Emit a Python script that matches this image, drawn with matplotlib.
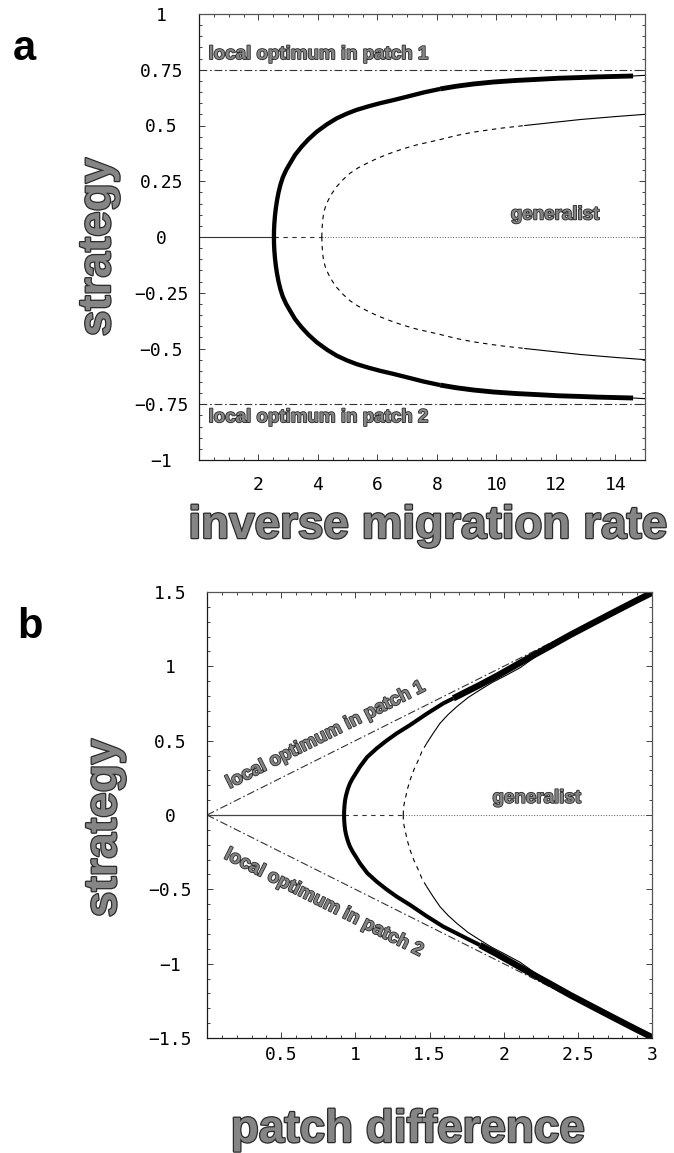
import numpy as np
import matplotlib
matplotlib.use("Agg")
import matplotlib.pyplot as plt
import matplotlib.patheffects as pe
from matplotlib.ticker import MultipleLocator

plt.rcParams['font.family'] = ['DejaVu Sans Mono']

# ---------------- Panel a data ----------------
a_xticks = [2, 4, 6, 8, 10, 12, 14]
a_xticklabels = ['2', '4', '6', '8', '10', '12', '14']
a_yticks = [-1, -0.75, -0.5, -0.25, 0, 0.25, 0.5, 0.75, 1]
a_yticklabels = ['\u22121', '\u22120.75', '\u22120.5', '\u22120.25', '0', '0.25', '0.5', '0.75', '1']
a_opt_level = 0.75

a_zero_solid_x = [0.0, 2.52]
a_zero_dash_x = [2.52, 4.13]
a_zero_dot_x = [4.13, 15.0]

# stable (thick) branch, upper half; lower half is its mirror image
a_stable_x = [2.52, 2.523, 2.534, 2.555, 2.585, 2.625, 2.675, 2.74, 2.82, 2.93, 3.06,
              3.23, 3.45, 3.68, 3.96, 4.30, 4.63, 4.97, 5.30, 5.70, 6.09, 6.54, 6.99,
              7.55, 8.11, 8.65, 9.22, 9.9, 10.67, 11.4, 12.1, 12.8, 13.4, 14.0, 14.6]
a_stable_y = [0.0, 0.03, 0.06, 0.095, 0.13, 0.165, 0.200, 0.235, 0.268, 0.300, 0.330,
              0.368, 0.405, 0.438, 0.472, 0.505, 0.532, 0.553, 0.570, 0.586, 0.600,
              0.614, 0.629, 0.648, 0.664, 0.676, 0.686, 0.695, 0.702, 0.707, 0.712,
              0.715, 0.718, 0.720, 0.722]
a_stable_tail_x = [14.6, 15.0]
a_stable_tail_y = [0.722, 0.725]

# unstable branch (dashed then thin solid)
a_unst_dash_x = [4.13, 4.14, 4.16, 4.19, 4.25, 4.35, 4.48, 4.63, 4.85, 5.08, 5.35,
                 5.64, 6.0, 6.42, 6.85, 7.32, 8.11, 8.65, 9.22, 10.1, 10.96]
a_unst_dash_y = [0.0, 0.04, 0.075, 0.105, 0.135, 0.166, 0.197, 0.226, 0.258, 0.286,
                 0.310, 0.330, 0.353, 0.375, 0.395, 0.413, 0.437, 0.455, 0.470,
                 0.487, 0.500]
a_unst_solid_x = [10.96, 12.0, 12.84, 14.0, 15.0]
a_unst_solid_y = [0.500, 0.515, 0.527, 0.540, 0.550]

# ---------------- Panel b data ----------------
b_xticks = [0.5, 1, 1.5, 2, 2.5, 3]
b_xticklabels = ['0.5', '1', '1.5', '2', '2.5', '3']
b_yticks = [-1.5, -1, -0.5, 0, 0.5, 1, 1.5]
b_yticklabels = ['\u22121.5', '\u22121', '\u22120.5', '0', '0.5', '1', '1.5']

b_opt_x = [0.0, 3.0]
b_opt_y = [0.0, 1.5]

b_zero_solid_x = [0.0, 0.924]
b_zero_dash_x = [0.924, 1.323]
b_zero_dot_x = [1.323, 3.0]

b_stable_x = [0.924, 0.9245, 0.926, 0.928, 0.931, 0.937, 0.945, 0.953, 0.964, 0.981,
              1.000, 1.031, 1.08, 1.144, 1.21, 1.279, 1.369, 1.48, 1.593, 1.661,
              1.75, 1.84, 1.953, 2.06, 2.178, 2.30, 2.447, 2.60, 2.75, 2.90, 3.0]
b_stable_y = [0.0, 0.025, 0.05, 0.075, 0.10, 0.13, 0.16, 0.185, 0.213, 0.245,
              0.275, 0.325, 0.39, 0.448, 0.50, 0.549, 0.605, 0.68, 0.751, 0.785,
              0.83, 0.875, 0.935, 0.995, 1.062, 1.128, 1.210, 1.29, 1.368, 1.445, 1.495]
b_thick_from_upper = 1.661
b_thick_from_lower = 1.84

b_unst_dash_x = [1.323, 1.3235, 1.325, 1.329, 1.335, 1.35, 1.369, 1.395, 1.425, 1.45, 1.481]
b_unst_dash_y = [0.0, 0.025, 0.05, 0.075, 0.10, 0.17, 0.235, 0.305, 0.37, 0.43, 0.482]
b_unst_solid_x = [1.481, 1.525, 1.571, 1.625, 1.683, 1.76, 1.84, 1.92, 1.998, 2.11, 2.18, 2.30]
b_unst_solid_y = [0.482, 0.55, 0.617, 0.675, 0.728, 0.79, 0.841, 0.89, 0.930, 0.99, 1.04, 1.12]

# ---------------- Figure ----------------
W, H = 674, 1153
fig = plt.figure(figsize=(W / 100, H / 100), dpi=100)


def fx(px):
    return px / W


def fy(py):
    return 1 - py / H


LABEL_FONT = 'Liberation Sans'
GREY = '#858585'
EDGE = '#2b2b2b'
big_fx = [pe.withStroke(linewidth=1.8, foreground=EDGE)]
small_fx = [pe.withStroke(linewidth=1.2, foreground=EDGE)]

DASH = (0, (4, 4))
DOT = (0, (0.8, 1.6))
DASHDOT = (0, (7, 2.5, 1.5, 2.5))


def style_axes(ax, xlim, ylim, xticks, xtl, yticks, ytl, xminor, yminor, ypad, xpad):
    ax.set_xlim(*xlim)
    ax.set_ylim(*ylim)
    ax.set_xticks(xticks)
    ax.set_xticklabels(xtl)
    ax.set_yticks(yticks)
    ax.set_yticklabels(ytl)
    ax.xaxis.set_minor_locator(MultipleLocator(xminor))
    ax.yaxis.set_minor_locator(MultipleLocator(yminor))
    ax.tick_params(which='both', direction='in', top=True, right=True,
                   width=0.6, color='#222222')
    ax.tick_params(which='major', length=4.5)
    ax.tick_params(which='minor', length=2.2)
    ax.tick_params(axis='y', pad=ypad, labelsize=13)
    ax.tick_params(axis='x', pad=xpad, labelsize=13)
    for t in ax.yaxis.get_major_ticks():
        t.label1.set_horizontalalignment('center')
    for t in ax.xaxis.get_major_ticks():
        t.label1.set_verticalalignment('center')
    for side in ['left', 'bottom']:
        ax.spines[side].set_color('#1a1a1a')
        ax.spines[side].set_linewidth(0.9)
    for side in ['top', 'right']:
        ax.spines[side].set_color('#555555')
        ax.spines[side].set_linewidth(0.9)


# ---------------- Panel a ----------------
axa = fig.add_axes([fx(199), fy(460), 446 / W, 446 / H])
style_axes(axa, (0, 15), (-1, 1), a_xticks, a_xticklabels, a_yticks, a_yticklabels,
           0.5, 0.05, 27, 18)

axa.axhline(a_opt_level, color='#333333', lw=0.8, ls=DASHDOT)
axa.axhline(-a_opt_level, color='#333333', lw=0.8, ls=DASHDOT)
axa.plot(a_zero_solid_x, [0, 0], color='#333333', lw=0.8)
axa.plot(a_zero_dash_x, [0, 0], color='#333333', lw=0.8, ls=DASH)
axa.plot(a_zero_dot_x, [0, 0], color='#555555', lw=0.8, ls=DOT)

ax_s = np.array(a_stable_x)
ay_s = np.array(a_stable_y)
m1 = ax_s <= 8.11
m2 = ax_s >= 8.11
for sgn in (1, -1):
    axa.plot(ax_s[m1], sgn * ay_s[m1], color='black', lw=3.1, solid_capstyle='butt',
             solid_joinstyle='round')
    axa.plot(ax_s[m2], sgn * ay_s[m2], color='black', lw=3.5, solid_capstyle='butt',
             solid_joinstyle='round')
    axa.plot(a_stable_tail_x, sgn * np.array(a_stable_tail_y), color='black', lw=0.8)
    axa.plot(a_unst_dash_x, sgn * np.array(a_unst_dash_y), color='black', lw=0.8, ls=DASH)
    axa.plot(a_unst_solid_x, sgn * np.array(a_unst_solid_y), color='black', lw=0.8)

axa.text(0.32, 0.818, 'local optimum in patch 1', fontfamily=LABEL_FONT,
         fontweight='bold', fontsize=13.5, color=GREY, ha='left', va='center',
         path_effects=small_fx)
axa.text(0.32, -0.81, 'local optimum in patch 2', fontfamily=LABEL_FONT,
         fontweight='bold', fontsize=13.5, color=GREY, ha='left', va='center',
         path_effects=small_fx)
axa.text(11.97, 0.099, 'generalist', fontfamily=LABEL_FONT, fontweight='bold',
         fontsize=13.5, color=GREY, ha='center', va='center', path_effects=small_fx)

# ---------------- Panel b ----------------
axb = fig.add_axes([fx(207), fy(1038), 445 / W, 446 / H])
style_axes(axb, (0, 3), (-1.5, 1.5), b_xticks, b_xticklabels, b_yticks, b_yticklabels,
           0.1, 0.1, 26.5, 12)

for sgn in (1, -1):
    axb.plot(b_opt_x, sgn * np.array(b_opt_y), color='#333333', lw=0.8, ls=DASHDOT)
axb.plot(b_zero_solid_x, [0, 0], color='#444444', lw=0.9)
axb.plot(b_zero_dash_x, [0, 0], color='#333333', lw=0.8, ls=DASH)
axb.plot(b_zero_dot_x, [0, 0], color='#555555', lw=0.8, ls=DOT)

bx_s = np.array(b_stable_x)
by_s = np.array(b_stable_y)
for sgn, cut in ((1, b_thick_from_upper), (-1, b_thick_from_lower)):
    mthin = bx_s <= cut
    mthick = bx_s >= cut
    axb.plot(bx_s[mthin], sgn * by_s[mthin], color='black', lw=2.9, solid_capstyle='butt',
             solid_joinstyle='round')
    axb.plot(bx_s[mthick], sgn * by_s[mthick], color='black', lw=4.6, solid_capstyle='butt',
             solid_joinstyle='round')
    axb.plot(b_unst_dash_x, sgn * np.array(b_unst_dash_y), color='black', lw=0.8, ls=DASH)
    axb.plot(b_unst_solid_x, sgn * np.array(b_unst_solid_y), color='black', lw=0.8)

axb.text(0.80, 0.535, 'local optimum in patch 1', fontfamily=LABEL_FONT,
         fontweight='bold', fontsize=13.5, color=GREY, ha='center', va='center',
         rotation=26.6, rotation_mode='anchor', path_effects=small_fx)
axb.text(0.785, -0.592, 'local optimum in patch 2', fontfamily=LABEL_FONT,
         fontweight='bold', fontsize=13.5, color=GREY, ha='center', va='center',
         rotation=-26.6, rotation_mode='anchor', path_effects=small_fx)
axb.text(2.222, 0.112, 'generalist', fontfamily=LABEL_FONT, fontweight='bold',
         fontsize=13.5, color=GREY, ha='center', va='center', path_effects=small_fx)

# ---------------- Figure-level labels ----------------
fig.text(fx(13), fy(60), 'a', fontfamily=LABEL_FONT, fontweight='bold',
         fontsize=30, color='black', ha='left', va='baseline')
fig.text(fx(17), fy(638), 'b', fontfamily=LABEL_FONT, fontweight='bold',
         fontsize=30, color='black', ha='left', va='baseline')

fig.text(fx(98), fy(247), 'strategy', fontfamily=LABEL_FONT, fontweight='bold',
         fontsize=33, color=GREY, rotation=90, ha='center', va='center',
         path_effects=big_fx)
fig.text(fx(104), fy(828), 'strategy', fontfamily=LABEL_FONT, fontweight='bold',
         fontsize=33, color=GREY, rotation=90, ha='center', va='center',
         path_effects=big_fx)
fig.text(fx(428), fy(538), 'inverse migration rate', fontfamily=LABEL_FONT,
         fontweight='bold', fontsize=33, color=GREY, ha='center', va='baseline',
         path_effects=big_fx)
fig.text(fx(408), fy(1142), 'patch difference', fontfamily=LABEL_FONT,
         fontweight='bold', fontsize=33, color=GREY, ha='center', va='baseline',
         path_effects=big_fx)

fig.savefig('out.png', dpi=100)
